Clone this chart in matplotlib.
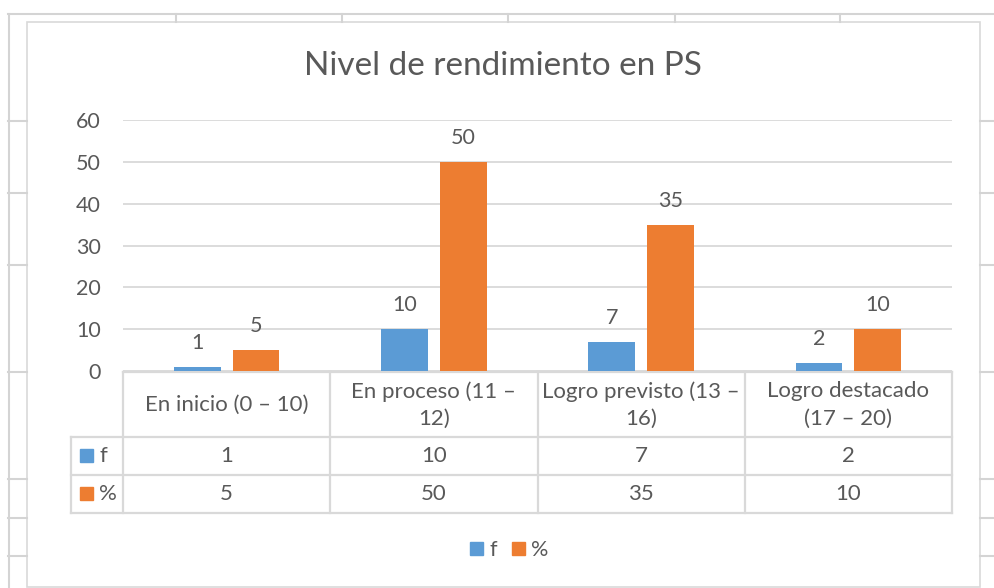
import matplotlib
matplotlib.use('Agg')
import matplotlib.pyplot as plt
import matplotlib.transforms as mtransforms
from matplotlib.patches import Patch, Rectangle
import numpy as np

# chart data
categories = ['En inicio (0 – 10)', 'En proceso (11 –\n12)',
              'Logro previsto (13 –\n16)', 'Logro destacado\n(17 – 20)']
series_names = ['f', '%']
f_values = [1, 10, 7, 2]
pct_values = [5, 50, 35, 10]
title = 'Nivel de rendimiento en PS'
y_ticks = [0, 10, 20, 30, 40, 50, 60]

BLUE = '#5B9BD5'
ORANGE = '#ED7D31'
TEXT = '#595959'
GRID = '#D9D9D9'
SHEET = '#D4D4D4'

plt.rcParams['font.family'] = ['Lato', 'DejaVu Sans']

W, H = 994, 588
fig = plt.figure(figsize=(W / 100, H / 100), dpi=100)


def fx(px):
    return px / W


def fy(py):
    return 1 - py / H


# spreadsheet grid behind the chart
def hline(y, x0, x1, color=SHEET, lw=1.5):
    fig.add_artist(plt.Line2D([fx(x0), fx(x1)], [fy(y), fy(y)], color=color, lw=lw,
                              transform=fig.transFigure))


def vline(x, y0, y1, color=SHEET, lw=1.5):
    fig.add_artist(plt.Line2D([fx(x), fx(x)], [fy(y0), fy(y1)], color=color, lw=lw,
                              transform=fig.transFigure))


hline(14, 8, W)
vline(8.5, 14, H)
for x in [176, 342, 508, 675, 840]:
    vline(x, 14, 22)
for y in [121, 193, 265, 372, 479, 518, 556]:
    hline(y, 8, 27)
    hline(y, 980, W)

# chart area border
fig.add_artist(Rectangle((fx(27), fy(587)), fx(980) - fx(27), fy(22) - fy(587),
                         fill=False, edgecolor=GRID, lw=1.2, transform=fig.transFigure))

# plot area
ax = fig.add_axes([fx(123), fy(371), fx(952) - fx(123), fy(120) - fy(371)])
x = np.arange(len(categories))
bw = 0.225
off = 0.142
b1 = ax.bar(x - off, f_values, bw, color=BLUE, zorder=3)
b2 = ax.bar(x + off, pct_values, bw, color=ORANGE, zorder=3)
for bars in (b1, b2):
    ax.bar_label(bars, padding=10, fontsize=15.5, color=TEXT)

ax.set_xlim(-0.5, len(categories) - 0.5)
ax.set_ylim(0, 60)
ax.set_yticks(y_ticks)
ax.set_xticks([])
ax.tick_params(axis='y', length=0, pad=16, labelsize=15.5, labelcolor=TEXT)
ax.yaxis.grid(True, color=GRID, lw=1.3, zorder=0)
for s in ax.spines.values():
    s.set_visible(False)

# data table under the axis
tr = mtransforms.blended_transform_factory(ax.transData, fig.transFigure)
left_col = -0.5 - (123 - 71) / ((952 - 123) / len(categories))
right_col = len(categories) - 0.5
row_tops = [372, 437, 475, 513]


def tline(xs, ys):
    ax.add_line(plt.Line2D(xs, ys, color=GRID, lw=1.6, transform=tr, clip_on=False))


tline([-0.5, right_col], [fy(372), fy(372)])
for y in row_tops[1:]:
    tline([left_col, right_col], [fy(y), fy(y)])
tline([left_col, left_col], [fy(437), fy(513)])
for i in range(len(categories) + 1):
    tline([i - 0.5, i - 0.5], [fy(372), fy(513)])

for i, cat in enumerate(categories):
    ax.text(i, fy(405), cat, transform=tr, ha='center', va='center',
            fontsize=16, color=TEXT, linespacing=1.45)
    ax.text(i, fy(456), str(f_values[i]), transform=tr, ha='center', va='center',
            fontsize=16, color=TEXT)
    ax.text(i, fy(494), str(pct_values[i]), transform=tr, ha='center', va='center',
            fontsize=16, color=TEXT)

# row headers with colour keys
for (cy, name, col) in [(456, series_names[0], BLUE), (494, series_names[1], ORANGE)]:
    fig.add_artist(Rectangle((fx(80), fy(cy + 6)), fx(12.5), fy(0) - fy(12.5),
                             color=col, transform=fig.transFigure))
    fig.text(fx(99), fy(cy), name, ha='left', va='center', fontsize=16, color=TEXT)

# title
fig.text(fx(503), fy(66), title, ha='center', va='center', fontsize=24, color=TEXT)

# legend
handles = [Patch(color=BLUE, label=series_names[0]), Patch(color=ORANGE, label=series_names[1])]
fig.legend(handles=handles, loc='center', bbox_to_anchor=(fx(509), fy(550)), ncol=2,
           frameon=False, fontsize=15.5, labelcolor=TEXT, handlelength=0.6,
           handleheight=0.6, handletextpad=0.3, columnspacing=0.7)

fig.savefig('out.png', dpi=100, facecolor='white')
